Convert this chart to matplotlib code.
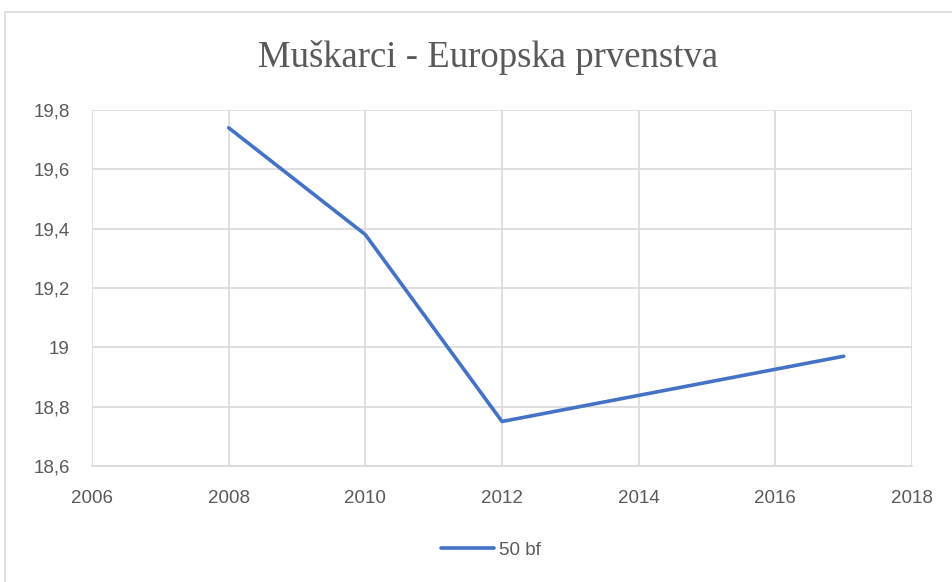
import matplotlib.pyplot as plt
from matplotlib.ticker import FuncFormatter, MultipleLocator
from matplotlib.patches import Rectangle

# data
years = [2008, 2010, 2012, 2017]
times_50bf = [19.74, 19.38, 18.75, 18.97]
series_name = '50 bf'
title = 'Muškarci - Europska prvenstva'

grey_text = '#595959'
grid_col = '#d9d9d9'
line_col = '#4472C4'

fig = plt.figure(figsize=(9.53, 5.82), dpi=100)
ax = fig.add_axes([92 / 953, 116 / 582, (912 - 92) / 953, (466 - 110) / 582])

# outer chart border (cut off at right/bottom like the screenshot)
fig.patches.append(Rectangle((5 / 953, -0.1), 1.2, (582 - 12) / 582 + 0.1,
                             transform=fig.transFigure, fill=False,
                             edgecolor=grid_col, linewidth=1.2))

ax.plot(years, times_50bf, color=line_col, linewidth=2.6,
        solid_capstyle='round', label=series_name, zorder=3)

ax.set_xlim(2006, 2018)
ax.set_ylim(18.6, 19.8)
ax.xaxis.set_major_locator(MultipleLocator(2))
ax.yaxis.set_major_locator(MultipleLocator(0.2))
ax.yaxis.set_major_formatter(FuncFormatter(lambda v, p: f'{v:.1f}'.rstrip('0').rstrip('.').replace('.', ',')))

ax.grid(True, color=grid_col, linewidth=1.2)
ax.set_axisbelow(True)
for side in ['top', 'right', 'left']:
    ax.spines[side].set_visible(False)
ax.spines['bottom'].set_color(grid_col)
ax.spines['bottom'].set_linewidth(1.2)
ax.tick_params(length=0, labelsize=13.5, labelcolor=grey_text)
ax.tick_params(axis='x', pad=17)
ax.tick_params(axis='y', pad=16)
for lab in ax.get_xticklabels() + ax.get_yticklabels():
    lab.set_fontfamily('Liberation Sans')

fig.text(488 / 953, 1 - 67 / 582, title, ha='center', va='baseline',
         fontsize=26.5, color=grey_text, family='Liberation Serif')

leg = ax.legend(loc='center', bbox_to_anchor=(491 / 953, 1 - 550 / 582),
                bbox_transform=fig.transFigure, frameon=False,
                handlelength=2.8, handletextpad=0.25,
                prop={'family': 'Liberation Sans', 'size': 13.5})
for t in leg.get_texts():
    t.set_color(grey_text)

fig.savefig('out.png', dpi=100)
